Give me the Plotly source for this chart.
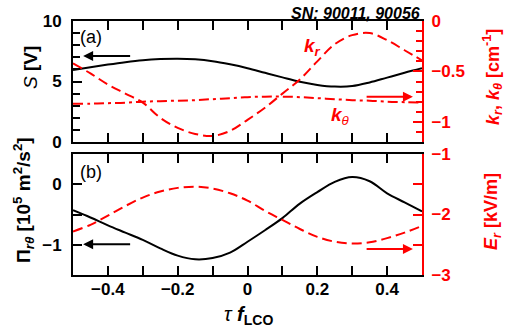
import plotly.graph_objects as go

# ---------------- data ----------------
tau = [-0.50, -0.45, -0.40, -0.35, -0.30, -0.25, -0.20, -0.15, -0.10, -0.05, 0.00,
       0.05, 0.10, 0.15, 0.20, 0.25, 0.30, 0.35, 0.40, 0.45, 0.50]

S_V = [5.95, 6.18, 6.40, 6.60, 6.76, 6.85, 6.88, 6.83, 6.68, 6.42, 6.10,
       5.72, 5.34, 4.98, 4.72, 4.58, 4.62, 4.92, 5.32, 5.72, 6.09]

k_r = [-0.42, -0.52, -0.63, -0.72, -0.81, -0.96, -1.06, -1.12, -1.14, -1.09, -0.98,
       -0.86, -0.72, -0.58, -0.40, -0.23, -0.14, -0.12, -0.19, -0.29, -0.39]

k_theta = [-0.82, -0.82, -0.815, -0.81, -0.80, -0.795, -0.79, -0.785, -0.775, -0.765, -0.755,
           -0.75, -0.75, -0.755, -0.765, -0.775, -0.785, -0.79, -0.80, -0.805, -0.81]

Pi_rtheta = [-0.43, -0.55, -0.68, -0.80, -0.92, -1.06, -1.18, -1.24, -1.22, -1.13, -0.95,
             -0.76, -0.56, -0.32, -0.13, 0.04, 0.12, 0.05, -0.15, -0.30, -0.45]

E_r = [-2.28, -2.17, -2.02, -1.86, -1.72, -1.62, -1.56, -1.54, -1.57, -1.65, -1.77,
       -1.94, -2.09, -2.24, -2.37, -2.45, -2.48, -2.46, -2.39, -2.30, -2.19]

# ---------------- styling ----------------
W, H = 506, 333
ML, MR, MT, MB = 73, 84, 21, 58
PW, PH = W - ML - MR, H - MT - MB
RED = "#ff0000"
FONT = "Liberation Sans"
TICKFONT = dict(family=FONT, size=17, color="black", weight="bold")
TICKFONT_R = dict(family=FONT, size=17, color=RED, weight="bold")


def px(x):
    return (x - ML) / PW


def py(y):
    return (H - MB - y) / PH


top_dom = [133 / PH, 1.0]
bot_dom = [0.0, 121 / PH]

fig = go.Figure()

# top panel
fig.add_trace(go.Scatter(x=tau, y=S_V, mode="lines", line=dict(color="black", width=2, shape="spline"),
                         xaxis="x2", yaxis="y3", showlegend=False))
fig.add_trace(go.Scatter(x=tau, y=k_r, mode="lines",
                         line=dict(color=RED, width=2, dash="10px,5px", shape="spline"),
                         xaxis="x2", yaxis="y4", showlegend=False))
fig.add_trace(go.Scatter(x=tau, y=k_theta, mode="lines",
                         line=dict(color=RED, width=2, dash="10px,4px,3px,4px", shape="spline"),
                         xaxis="x2", yaxis="y4", showlegend=False))
# bottom panel
fig.add_trace(go.Scatter(x=tau, y=E_r, mode="lines",
                         line=dict(color=RED, width=2, dash="10px,5px", shape="spline"),
                         xaxis="x", yaxis="y2", showlegend=False))
fig.add_trace(go.Scatter(x=tau, y=Pi_rtheta, mode="lines", line=dict(color="black", width=2, shape="spline"),
                         xaxis="x", yaxis="y", showlegend=False))

xcommon = dict(range=[-0.5, 0.5], showline=True, linecolor="black", linewidth=2, mirror="ticks",
               ticks="inside", ticklen=9, tickwidth=2, tickcolor="black",
               dtick=0.2, tick0=0, tickformat="~g",
               minor=dict(dtick=0.1, tick0=0, ticks="inside", ticklen=9, tickwidth=2, tickcolor="black"),
               showgrid=False, zeroline=False, tickfont=TICKFONT)

fig.update_layout(
    width=W, height=H,
    margin=dict(l=ML, r=MR, t=MT, b=MB),
    paper_bgcolor="white", plot_bgcolor="white",
    xaxis=dict(domain=[0, 1], anchor="y", ticklabelstandoff=-2, **xcommon),
    xaxis2=dict(domain=[0, 1], anchor="y3", showticklabels=False, **xcommon),
    yaxis=dict(domain=bot_dom, anchor="x", range=[-1.5, 0.5], dtick=1, tick0=0,
               showline=True, linecolor="black", linewidth=2, ticks="inside", ticklen=9, tickwidth=2,
               tickcolor="black", minor=dict(dtick=0.5, tick0=0, ticks="inside", ticklen=9, tickwidth=2, tickcolor="black"),
               showgrid=False, zeroline=False, tickfont=TICKFONT, ticklabelstandoff=6),
    yaxis2=dict(anchor="x", overlaying="y", side="right", range=[-3, -1], dtick=1, tick0=-3,
                showline=True, linecolor=RED, linewidth=2, ticks="inside", ticklen=9, tickwidth=2,
                tickcolor=RED, minor=dict(dtick=0.5, tick0=-3, ticks="inside", ticklen=9, tickwidth=2, tickcolor=RED),
                showgrid=False, zeroline=False, tickfont=TICKFONT_R, ticklabelstandoff=4),
    yaxis3=dict(domain=top_dom, anchor="x2", range=[0, 10], dtick=5, tick0=0,
                showline=True, linecolor="black", linewidth=2, ticks="inside", ticklen=9, tickwidth=2,
                tickcolor="black", minor=dict(dtick=1, tick0=0, ticks="inside", ticklen=7, tickwidth=2, tickcolor="black"),
                showgrid=False, zeroline=False, tickfont=TICKFONT, ticklabelstandoff=6),
    yaxis4=dict(anchor="x2", overlaying="y3", side="right", range=[-1.2, 0], dtick=0.5, tick0=0,
                tickformat="~g",
                showline=True, linecolor=RED, linewidth=2, ticks="inside", ticklen=9, tickwidth=2,
                tickcolor=RED, minor=dict(dtick=0.1, tick0=0, ticks="inside", ticklen=6, tickwidth=2, tickcolor=RED),
                showgrid=False, zeroline=False, tickfont=TICKFONT_R, ticklabelstandoff=4),
)

ann = []
# axis titles
ann.append(dict(text="<i>S</i> <b>[V]</b>", x=px(30), y=py(68), xref="paper", yref="paper",
                textangle=-90, showarrow=False, font=dict(family=FONT, size=19, color="black"),
                xanchor="center", yanchor="middle"))
ann.append(dict(text="<b>Π<sub><i>rθ</i></sub> [10<sup>5</sup> m<sup>2</sup>/s<sup>2</sup>]</b>",
                x=px(23), y=py(200), xref="paper", yref="paper", textangle=-90, showarrow=False,
                font=dict(family=FONT, size=19, color="black"), xanchor="center", yanchor="middle"))
ann.append(dict(text="<b><i>k<sub>r</sub></i>, <i>k<sub>θ</sub></i> [cm<sup>-1</sup>]</b>",
                x=px(492), y=py(77), xref="paper", yref="paper", textangle=-90, showarrow=False,
                font=dict(family=FONT, size=18, color=RED), xanchor="center", yanchor="middle"))
ann.append(dict(text="<b><i>E<sub>r</sub></i> [kV/m]</b>",
                x=px(492), y=py(212), xref="paper", yref="paper", textangle=-90, showarrow=False,
                font=dict(family=FONT, size=18, color=RED), xanchor="center", yanchor="middle"))
ann.append(dict(text="<i>τ</i> <b><i>f</i><sub>LCO</sub></b>", x=px(248), y=py(315), xref="paper", yref="paper",
                showarrow=False, font=dict(family=FONT, size=20, color="black"),
                xanchor="center", yanchor="middle"))
ann.append(dict(text="<b><i>SN: 90011, 90056</i></b>", x=1.0, y=py(13), xref="paper", yref="paper",
                showarrow=False, font=dict(family=FONT, size=16, color="black"),
                xanchor="right", yanchor="middle"))
# panel labels
ann.append(dict(text="(a)", x=px(78), y=py(37), xref="paper", yref="paper", showarrow=False,
                font=dict(family=FONT, size=18, color="black"), xanchor="left", yanchor="middle"))
ann.append(dict(text="(b)", x=px(78), y=py(172), xref="paper", yref="paper", showarrow=False,
                font=dict(family=FONT, size=18, color="black"), xanchor="left", yanchor="middle"))
# curve labels
ann.append(dict(text="<b><i>k<sub>r</sub></i></b>", x=px(312), y=py(47), xref="paper", yref="paper",
                showarrow=False, font=dict(family=FONT, size=19, color=RED), xanchor="center", yanchor="middle"))
ann.append(dict(text="<b><i>k</i></b><sub><i>θ</i></sub>", x=px(340), y=py(116), xref="paper", yref="paper",
                showarrow=False, font=dict(family=FONT, size=19, color=RED), xanchor="center", yanchor="middle"))

# arrows (head, tail) in data coordinates
arrows = [
    dict(x=-0.471, y=7.1, ax=-0.332, ay=7.1, xref="x2", yref="y3", axref="x2", ayref="y3", color="black"),
    dict(x=0.474, y=-0.75, ax=0.337, ay=-0.75, xref="x2", yref="y4", axref="x2", ayref="y4", color=RED),
    dict(x=-0.471, y=-0.99, ax=-0.332, ay=-0.99, xref="x", yref="y", axref="x", ayref="y", color="black"),
    dict(x=0.474, y=-2.57, ax=0.337, ay=-2.57, xref="x", yref="y2", axref="x", ayref="y2", color=RED),
]
for a in arrows:
    c = a.pop("color")
    ann.append(dict(text="", showarrow=True, arrowhead=2, arrowsize=1, arrowwidth=2, arrowcolor=c, **a))

fig.update_layout(annotations=ann)
fig.write_html("out.html")
